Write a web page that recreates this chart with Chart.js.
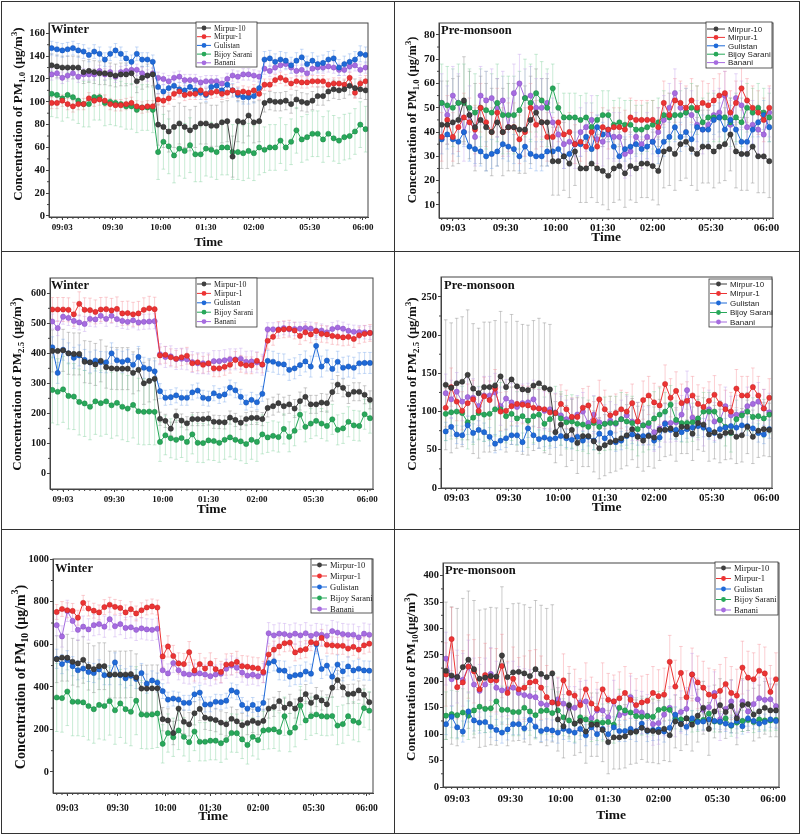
<!DOCTYPE html>
<html>
<head>
<meta charset="utf-8">
<script src="https://cdn.jsdelivr.net/npm/chart.js@4.4.0/dist/chart.umd.min.js"></script>
<style>
  body { margin: 0; background: #fff; }
  #wrap { position: relative; width: 803px; height: 836px; overflow: hidden; background: #fff; }
  #wrap canvas { position: absolute; }
  .ln { position: absolute; background: #333; }
</style>
</head>
<body>
<div id="wrap"></div>
<script>
// stations and colours
const stations = ['Mirpur-10', 'Mirpur-1', 'Gulistan', 'Bijoy Sarani', 'Banani'];
const colors = ['#3f3f3f', '#ec3434', '#1f6ad8', '#28a85a', '#a66ce0'];
const edges = ['#262626', '#c42020', '#1450b0', '#1b8444', '#8650c2'];
const errColors = ['rgba(120,120,120,0.38)', 'rgba(245,130,140,0.38)', 'rgba(110,160,235,0.38)',
                   'rgba(120,205,150,0.4)', 'rgba(195,160,235,0.42)'];

// x axis labels
const tickLabels = ['09:03', '09:30', '10:00', '01:30', '02:00', '05:30', '06:00'];
const tickPos = [2, 11.5, 20.5, 29, 38, 48.5, 58.5];

// y axis ticks
const w1Ticks = [0, 20, 40, 60, 80, 100, 120, 140, 160];
const p1Ticks = [10, 20, 30, 40, 50, 60, 70, 80];
const w25Ticks = [0, 100, 200, 300, 400, 500, 600];
const p25Ticks = [0, 50, 100, 150, 200, 250];
const w10Ticks = [0, 200, 400, 600, 800, 1000];
const p10Ticks = [0, 50, 100, 150, 200, 250, 300, 350, 400];

// Winter PM1.0
const w1_m10 = [132,131,130,130,130,130,126,127,126,125,125,124,123,124,124,125,118,121,123,124,
  80,78,74,78,81,78,75,78,81,81,79,79,82,83,52,83,82,88,82,83,
  99,101,100,100,101,98,102,100,99,101,105,105,109,111,110,111,114,112,111,110];
const w1_m1 = [99,99,101,98,96,98,98,103,101,102,101,98,97,97,98,99,96,95,96,96,
  102,101,103,107,109,106,107,107,110,107,108,109,107,108,110,108,109,108,110,107,
  115,115,119,121,119,116,118,117,117,118,118,118,115,116,116,115,121,108,116,118];
const w1_gul = [147,146,145,146,147,145,144,141,144,142,137,142,145,142,138,135,142,137,137,135,
  113,109,112,114,111,110,113,110,108,106,113,114,110,115,110,106,104,104,105,112,
  137,138,135,137,136,132,136,139,133,136,133,134,137,138,130,133,135,137,142,141];
const w1_bij = [107,106,103,106,104,101,98,98,104,104,99,100,99,98,96,96,93,95,95,93,
  56,65,61,53,59,57,62,54,54,59,58,56,60,60,56,56,55,57,55,60,
  58,60,60,66,60,65,75,67,69,72,72,67,72,68,66,69,70,74,80,76];
const w1_ban = [124,125,121,123,125,122,124,124,124,127,124,126,122,126,127,128,128,125,123,125,
  121,120,118,121,122,119,119,119,117,118,118,118,116,120,123,122,124,124,123,122,
  129,127,130,132,133,130,127,128,125,129,130,130,131,130,128,128,131,132,128,130];
const w1_err = [[10, 18, 8], [5, 5, 5], [6, 6, 7], [20, 24, 20], [5, 5, 5]];

// Pre-monsoon PM1.0
const p1_m10 = [43,43,44,45,53,47,42,45,42,40,44,40,42,42,41,41,45,48,44,44,
  28,28,30,27,32,25,25,27,25,24,22,25,26,23,26,25,27,27,26,24,
  32,33,31,35,36,33,31,34,34,32,34,35,39,32,31,31,34,30,30,28];
const p1_m1 = [38,45,38,42,46,44,41,50,44,40,48,40,42,42,37,40,50,43,44,38,
  38,44,39,40,35,36,34,40,34,42,41,42,42,41,46,45,45,45,45,42,
  52,47,53,52,50,53,50,52,51,53,55,56,48,52,58,53,50,48,45,50];
const p1_gul = [37,39,37,36,40,34,33,32,30,31,32,35,34,33,30,34,31,30,30,32,
  32,33,30,31,35,35,38,33,42,39,41,34,30,33,34,35,33,34,36,32,
  36,38,42,38,40,37,42,41,41,45,46,41,45,41,36,36,41,44,47,42];
const p1_bij = [52,51,50,52,52,50,48,50,49,48,52,47,47,47,49,54,52,56,53,50,
  58,50,46,46,46,45,46,42,45,47,47,43,44,43,43,41,41,42,43,44,
  47,46,47,47,48,50,49,44,46,46,46,46,44,46,44,50,48,50,48,46];
const p1_ban = [52,47,55,52,40,47,38,55,53,54,50,53,42,56,60,54,55,50,50,52,
  44,39,35,36,35,40,42,45,37,36,39,38,38,31,32,38,35,38,36,40,
  45,50,56,50,48,47,43,41,43,47,48,55,43,54,51,42,43,41,39,48];
const p1_err = [[18, 14, 15], [10, 8, 9], [6, 5, 6], [16, 10, 10], [12, 10, 10]];

// Winter PM2.5
const w25_m10 = [408,408,410,400,398,398,372,370,363,375,354,350,349,349,349,335,345,300,308,315,
  182,175,149,192,176,167,181,181,181,183,172,171,170,186,178,169,181,185,185,181,
  218,224,234,224,230,216,241,255,230,230,236,234,271,296,285,263,272,272,262,245];
const w25_m1 = [546,546,546,545,530,565,545,544,538,546,547,543,548,533,534,530,533,545,550,547,
  393,395,387,382,387,392,367,370,362,367,350,350,355,362,378,365,360,360,375,363,
  442,455,478,480,482,476,458,470,463,474,465,463,458,456,453,455,448,460,465,468];
const w25_gul = [420,335,412,400,385,393,378,370,376,371,370,400,377,372,377,362,388,352,348,340,
  274,252,254,260,252,252,270,276,252,249,267,258,263,286,277,255,236,245,237,265,
  375,372,365,363,345,350,361,373,356,425,356,376,348,372,352,356,352,367,368,368];
const w25_bij = [278,272,280,258,256,238,233,222,240,234,240,227,235,222,216,228,207,205,206,205,
  105,127,117,112,118,105,130,102,101,110,108,102,112,120,112,107,98,112,105,130,
  120,125,121,148,122,142,196,155,166,175,166,158,180,145,150,172,160,158,197,184];
const w25_ban = [506,484,522,518,508,503,498,515,513,525,515,525,514,508,505,510,503,505,506,507,
  397,388,390,381,382,380,371,367,367,366,374,374,377,380,380,382,372,373,370,362,
  480,480,480,484,480,481,482,484,482,476,476,470,481,486,482,475,472,471,470,468];
const w25_err = [[70, 22, 30], [40, 28, 28], [35, 25, 35], [110, 65, 50], [25, 35, 22]];

// Pre-monsoon PM2.5
const p25_m10 = [135,131,137,139,148,130,124,132,132,134,146,132,142,133,129,128,134,137,131,129,
  73,83,68,76,59,68,68,61,52,56,60,62,65,69,77,67,62,68,66,76,
  76,78,70,80,80,71,85,83,70,73,68,72,73,67,69,80,67,75,77,76];
const p25_m1 = [105,132,113,101,111,116,101,120,115,130,100,101,107,110,109,108,105,104,103,99,
  98,110,103,93,93,105,108,88,116,103,95,98,103,100,111,87,115,121,112,108,
  136,118,127,111,114,121,110,106,114,122,110,103,100,130,121,121,132,121,104,118];
const p25_gul = [74,80,70,69,82,72,76,73,67,58,62,65,69,69,60,78,69,64,66,64,
  65,68,65,63,67,62,67,62,71,65,72,60,62,68,70,68,68,69,62,66,
  84,76,76,73,77,79,81,79,76,72,77,79,81,79,82,81,78,72,70,77];
const p25_bij = [97,99,100,98,86,92,98,96,97,103,103,94,97,91,94,88,94,96,84,90,
  98,91,86,87,84,83,80,85,80,84,85,85,90,87,85,77,82,85,91,96,
  100,109,89,85,85,86,91,100,100,100,89,80,72,90,95,100,93,94,91,96];
const p25_ban = [124,116,126,113,119,118,107,121,121,125,107,117,112,106,111,112,116,104,101,103,
  99,95,90,92,96,100,85,96,86,84,88,84,90,95,87,87,82,81,73,78,
  85,85,86,96,128,92,88,80,103,87,89,107,95,96,97,107,110,113,104,99];
const p25_err = [[85, 40, 35], [25, 25, 25], [12, 12, 12], [35, 35, 25], [25, 25, 25]];

// Winter PM10
const w10_m10 = [530,537,537,518,510,527,495,483,497,497,458,458,458,458,460,445,392,392,393,393,
  248,242,183,298,236,224,276,296,255,250,244,232,224,250,238,220,230,240,230,240,
  298,306,333,302,320,298,340,366,325,352,336,318,396,432,398,366,368,383,363,328];
const w10_m1 = [752,766,760,757,725,795,768,758,750,775,786,776,771,750,765,745,760,773,778,773,
  543,590,545,510,507,563,477,507,486,510,483,470,505,507,517,497,495,490,487,470,
  552,575,590,605,608,562,572,577,610,605,630,598,595,593,593,580,588,575,595,603];
const w10_gul = [532,507,525,497,478,486,470,465,482,455,455,515,455,440,452,437,465,415,430,420,
  380,340,345,340,325,325,365,373,317,318,330,328,335,383,375,315,298,315,295,325,
  512,520,478,476,448,455,457,472,462,600,484,500,448,505,473,496,477,485,477,476];
const w10_bij = [350,347,378,330,330,327,310,295,315,310,333,290,322,295,283,335,270,268,270,275,
  132,183,163,195,165,140,190,142,142,147,147,135,150,183,182,153,127,165,150,195,
  198,200,188,262,185,208,312,242,262,270,262,260,263,218,225,262,240,232,300,288];
const w10_ban = [690,637,757,710,668,683,670,690,695,683,718,685,695,677,680,668,675,670,668,673,
  478,463,512,478,462,458,463,463,458,450,458,462,485,500,490,467,453,457,450,465,
  652,642,650,648,642,650,642,652,640,648,645,640,662,655,648,645,645,633,650,645];
const w10_err = [[110, 55, 45], [35, 50, 40], [45, 35, 45], [160, 90, 90], [50, 45, 50]];

// Pre-monsoon PM10
const p10_m10 = [220,211,208,227,241,223,205,207,210,209,249,208,217,218,215,210,223,214,208,215,
  128,115,155,120,125,105,118,118,108,85,94,94,96,103,105,112,107,106,104,110,
  98,124,119,130,118,135,150,110,143,155,142,153,130,155,157,137,143,150,145,145];
const p10_m1 = [213,280,189,198,228,219,185,212,202,202,229,178,205,185,188,198,200,188,170,160,
  158,202,178,173,155,185,158,148,185,165,162,168,178,165,155,160,163,178,172,175,
  237,190,216,170,213,198,188,175,172,182,195,178,173,226,207,204,220,215,180,204];
const p10_gul = [119,133,113,105,143,126,122,123,114,108,103,109,119,119,111,127,114,106,109,107,
  103,110,106,103,110,98,113,100,110,100,113,106,106,110,106,120,106,108,109,105,
  112,137,120,114,130,123,124,128,125,124,120,117,125,115,130,125,120,123,128,125];
const p10_bij = [135,138,136,141,135,145,152,148,149,162,146,146,142,142,150,143,136,144,145,140,
  145,132,126,120,132,128,121,123,122,123,118,150,145,141,134,133,134,133,146,148,
  146,130,128,130,124,125,127,139,124,123,130,116,122,125,127,123,128,126,126,127];
const p10_ban = [243,204,209,203,228,194,182,194,214,188,183,185,188,178,174,172,170,158,155,160,
  166,158,150,150,160,162,130,145,145,132,162,136,140,170,143,141,135,119,121,137,
  150,135,142,148,213,166,146,151,178,128,148,162,133,162,143,157,168,165,166,153];
const p10_err = [[130, 60, 50], [60, 50, 50], [20, 20, 15], [45, 35, 20], [50, 40, 40]];

const SERIF = '"Liberation Serif", "Times New Roman", serif';
const SANS = '"Liberation Sans", Arial, sans-serif';

// page layout of the six panels (page coordinates)
const panels = [
  { cell: [0, 0, 394, 251], area: [49, 23, 368, 217], xr: [-0.5, 59.45], yr: [-0.9, 169], yTicks: w1Ticks,
    series: [w1_m10, w1_m1, w1_gul, w1_bij, w1_ban], errs: w1_err,
    season: 'Winter', seasonAt: [51, 30], sub: '1.0', gap: ' ', titleAt: [19, 114], titleSize: 13,
    timeY: 243, timeSize: 13, yTickSize: 10.5, xTickSize: 9, xPad: 2,
    leg: { x: 196, y: 22, w: 61, h: 45, r0: 28, step: 8.7, l0: 1, l1: 15, m: 8, tx: 18, size: 7.6, fam: SERIF } },
  { cell: [394, 0, 409, 251], area: [439, 23, 773, 218], xr: [-0.49, 59.67], yr: [4.6, 84.9], yTicks: p1Ticks,
    series: [p1_m10, p1_m1, p1_gul, p1_bij, p1_ban], errs: p1_err,
    season: 'Pre-monsoon', seasonAt: [441, 31], sub: '1.0', gap: ' ', titleAt: [413, 120], titleSize: 12.5,
    timeY: 238, timeSize: 13.5, yTickSize: 11, xTickSize: 11, xPad: 0.5,
    leg: { x: 706, y: 22, w: 66, h: 46, r0: 29, step: 8.4, l0: 1, l1: 19, m: 10, tx: 22, size: 8, fam: SANS } },
  { cell: [0, 251, 394, 278], area: [50, 278, 373, 489], xr: [-0.43, 59.56], yr: [-52, 651], yTicks: w25Ticks,
    series: [w25_m10, w25_m1, w25_gul, w25_bij, w25_ban], errs: w25_err,
    season: 'Winter', seasonAt: [51, 286], sub: '2.5', gap: ' ', titleAt: [18, 384], titleSize: 13,
    timeY: 510, timeSize: 13.5, yTickSize: 10, xTickSize: 9, xPad: 2,
    leg: { x: 196, y: 278, w: 61, h: 49, r0: 284, step: 9.4, l0: 1, l1: 15, m: 8, tx: 18, size: 7.8, fam: SERIF } },
  { cell: [394, 251, 409, 278], area: [441, 277, 772, 488], xr: [-0.86, 59.49], yr: [0, 276], yTicks: p25Ticks,
    series: [p25_m10, p25_m1, p25_gul, p25_bij, p25_ban], errs: p25_err,
    season: 'Pre-monsoon', seasonAt: [444, 286], sub: '2.5', gap: ' ', titleAt: [413, 384], titleSize: 13,
    timeY: 508, timeSize: 13.5, yTickSize: 10.5, xTickSize: 11, xPad: 1,
    leg: { x: 709, y: 279, w: 63, h: 48, r0: 284, step: 9.5, l0: 1, l1: 18, m: 9.5, tx: 21, size: 8, fam: SANS } },
  { cell: [0, 529, 394, 307], area: [53, 559, 373, 793], xr: [-0.7, 59.7], yr: [-99, 1001], yTicks: w10Ticks,
    series: [w10_m10, w10_m1, w10_gul, w10_bij, w10_ban], errs: w10_err,
    season: 'Winter', seasonAt: [55, 569], sub: '10', gap: ' ', titleAt: [21, 677], titleSize: 14,
    timeY: 817, timeSize: 13.5, yTickSize: 10.3, xTickSize: 9.6, xPad: 6.5,
    leg: { x: 311, y: 559, w: 61, h: 54, r0: 565, step: 11, l0: 1, l1: 16, m: 8.5, tx: 19, size: 8.5, fam: SERIF } },
  { cell: [394, 529, 409, 307], area: [443, 563, 779, 787], xr: [-0.54, 59.54], yr: [0, 424], yTicks: p10Ticks,
    series: [p10_m10, p10_m1, p10_gul, p10_bij, p10_ban], errs: p10_err,
    season: 'Pre-monsoon', seasonAt: [445, 571], sub: '10', gap: '', titleAt: [412, 677], titleSize: 13,
    timeY: 816, timeSize: 13.5, yTickSize: 10.4, xTickSize: 11, xPad: 3,
    leg: { x: 715, y: 562, w: 63, h: 53, r0: 568, step: 10.5, l0: 1, l1: 16, m: 8.5, tx: 19, size: 8.5, fam: SERIF } }
];

function drawYTitle(ctx, cx, cy, size, sub, gap) {
  const small = size * 0.68;
  const parts = [
    ['Concentration of PM', size, 0],
    [sub, small, size * 0.32],
    [gap + '(\u03bcg/m', size, 0],
    ['3', small, -size * 0.36],
    [')', size, 0]
  ];
  ctx.save();
  ctx.translate(cx, cy);
  ctx.rotate(-Math.PI / 2);
  ctx.fillStyle = '#111';
  ctx.textBaseline = 'middle';
  ctx.textAlign = 'left';
  let total = 0;
  const widths = parts.map(pt => {
    ctx.font = 'bold ' + pt[1] + 'px ' + SERIF;
    const w = ctx.measureText(pt[0]).width;
    total += w;
    return w;
  });
  let xx = -total / 2;
  parts.forEach((pt, k) => {
    ctx.font = 'bold ' + pt[1] + 'px ' + SERIF;
    ctx.fillText(pt[0], xx, pt[2]);
    xx += widths[k];
  });
  ctx.restore();
}

function makeDecor(p) {
  const ox = p.cell[0], oy = p.cell[1];
  return {
    id: 'decor',
    beforeDatasetsDraw(chart) {
      const { ctx, chartArea: a, scales: { x, y } } = chart;
      ctx.save();
      ctx.beginPath();
      ctx.rect(a.left, a.top, a.right - a.left, a.bottom - a.top);
      ctx.clip();
      ctx.lineWidth = 1;
      p.series.forEach((vals, s) => {
        ctx.strokeStyle = errColors[s];
        ctx.beginPath();
        vals.forEach((v, i) => {
          const e = p.errs[s][Math.floor(i / 20)];
          const px = x.getPixelForValue(i);
          const y1 = y.getPixelForValue(v + e), y2 = y.getPixelForValue(v - e);
          ctx.moveTo(px, y1); ctx.lineTo(px, y2);
          ctx.moveTo(px - 1.8, y1); ctx.lineTo(px + 1.8, y1);
          ctx.moveTo(px - 1.8, y2); ctx.lineTo(px + 1.8, y2);
        });
        ctx.stroke();
      });
      ctx.restore();
    },
    afterDraw(chart) {
      const { ctx, chartArea: a, scales: { x, y } } = chart;
      ctx.save();
      // frame around the plot
      ctx.strokeStyle = '#444';
      ctx.lineWidth = 1;
      ctx.strokeRect(a.left, a.top, a.right - a.left, a.bottom - a.top);
      // minor ticks
      ctx.beginPath();
      for (let i = 0; i < p.series[0].length; i++) {
        const px = x.getPixelForValue(i);
        ctx.moveTo(px, a.bottom); ctx.lineTo(px, a.bottom + 2);
      }
      for (let k = 0; k < p.yTicks.length - 1; k++) {
        const py = y.getPixelForValue((p.yTicks[k] + p.yTicks[k + 1]) / 2);
        ctx.moveTo(a.left, py); ctx.lineTo(a.left - 2, py);
      }
      ctx.stroke();

      // season label
      ctx.fillStyle = '#111';
      ctx.textBaseline = 'middle';
      ctx.textAlign = 'left';
      ctx.font = 'bold 12.5px ' + SERIF;
      ctx.fillText(p.season, p.seasonAt[0] - ox, p.seasonAt[1] - oy);

      // x title
      ctx.textAlign = 'center';
      ctx.font = 'bold ' + p.timeSize + 'px ' + SERIF;
      ctx.fillText('Time', (a.left + a.right) / 2, p.timeY - oy);

      // y title
      drawYTitle(ctx, p.titleAt[0] - ox, p.titleAt[1] - oy, p.titleSize, p.sub, p.gap);

      // legend
      const L = p.leg;
      const lx = L.x - ox, ly = L.y - oy;
      ctx.fillStyle = '#fff';
      ctx.fillRect(lx, ly, L.w, L.h);
      ctx.strokeStyle = '#333';
      ctx.lineWidth = 0.8;
      ctx.strokeRect(lx, ly, L.w, L.h);
      ctx.textAlign = 'left';
      ctx.font = L.size + 'px ' + L.fam;
      stations.forEach((name, s) => {
        const ry = L.r0 - oy + s * L.step;
        ctx.strokeStyle = colors[s];
        ctx.lineWidth = 1;
        ctx.beginPath();
        ctx.moveTo(lx + L.l0, ry); ctx.lineTo(lx + L.l1, ry);
        ctx.stroke();
        ctx.beginPath();
        ctx.arc(lx + L.m, ry, 2.4, 0, Math.PI * 2);
        ctx.fillStyle = colors[s];
        ctx.fill();
        ctx.fillStyle = '#222';
        ctx.fillText(name, lx + L.tx, ry + 0.5);
      });
      ctx.restore();
    }
  };
}

const wrap = document.getElementById('wrap');

panels.forEach(p => {
  const [cx, cy, cw, ch] = p.cell;
  const cv = document.createElement('canvas');
  cv.width = cw; cv.height = ch;
  cv.style.left = cx + 'px'; cv.style.top = cy + 'px';
  cv.style.width = cw + 'px'; cv.style.height = ch + 'px';
  wrap.appendChild(cv);

  const L = p.area[0] - cx, T = p.area[1] - cy, R = p.area[2] - cx, B = p.area[3] - cy;

  new Chart(cv.getContext('2d'), {
    type: 'line',
    data: {
      datasets: p.series.map((vals, s) => ({
        label: stations[s],
        data: vals.map((v, i) => ({ x: i, y: v })),
        borderColor: colors[s],
        backgroundColor: colors[s],
        borderWidth: 1,
        pointRadius: 2.6,
        pointBackgroundColor: colors[s],
        pointBorderColor: edges[s],
        pointBorderWidth: 0.5,
        tension: 0,
        fill: false
      }))
    },
    options: {
      responsive: false,
      animation: false,
      devicePixelRatio: 1,
      events: [],
      layout: { padding: { left: 0, top: T, right: cw - R, bottom: 0 } },
      plugins: { legend: { display: false }, tooltip: { enabled: false } },
      scales: {
        x: {
          type: 'linear',
          min: p.xr[0], max: p.xr[1],
          afterFit(s) { s.height = ch - B; },
          afterBuildTicks(s) { s.ticks = tickPos.map(v => ({ value: v })); },
          ticks: {
            autoSkip: false, maxRotation: 0, padding: p.xPad, color: '#111',
            font: { family: SERIF, weight: 'bold', size: p.xTickSize },
            callback: (v, i) => tickLabels[i]
          },
          grid: { drawOnChartArea: false, tickLength: 3, color: '#444' },
          border: { color: '#444', width: 1 }
        },
        y: {
          min: p.yr[0], max: p.yr[1],
          afterFit(s) { s.width = L; },
          afterBuildTicks(s) { s.ticks = p.yTicks.map(v => ({ value: v })); },
          ticks: {
            autoSkip: false, padding: 1, color: '#111',
            font: { family: SERIF, weight: 'bold', size: p.yTickSize },
            callback: v => String(v)
          },
          grid: { drawOnChartArea: false, tickLength: 3, color: '#444' },
          border: { color: '#444', width: 1 }
        }
      }
    },
    plugins: [makeDecor(p)]
  });
});

// table borders around the panels
[[1, 1, 798, 1.4], [1, 833, 798, 1.4], [1, 1, 1.4, 833], [798.6, 1, 1.4, 833],
 [393.5, 1, 1.4, 833], [1, 250.5, 798, 1.4], [1, 528.5, 798, 1.4]].forEach(r => {
  const d = document.createElement('div');
  d.className = 'ln';
  d.style.left = r[0] + 'px'; d.style.top = r[1] + 'px';
  d.style.width = r[2] + 'px'; d.style.height = r[3] + 'px';
  wrap.appendChild(d);
});
</script>
</body>
</html>
